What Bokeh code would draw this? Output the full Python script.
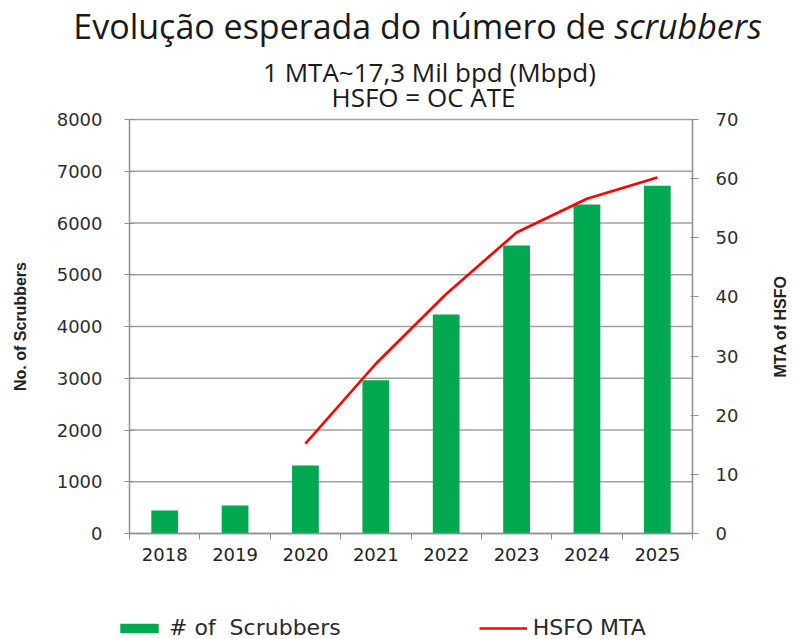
import math
from bokeh.plotting import figure
from bokeh.models import (Range1d, LinearAxis, FixedTicker, Legend, LegendItem, Label,
                          ColumnDataSource)
from bokeh.embed import file_html
from bokeh.resources import INLINE

# ---- data ----
years = ["2018", "2019", "2020", "2021", "2022", "2023", "2024", "2025"]
scrubbers = [444, 541, 1314, 2960, 4232, 5565, 6357, 6720]
mta_years = ["2020", "2021", "2022", "2023", "2024", "2025"]
hsfo_mta = [15.2, 28.7, 40.5, 50.9, 56.6, 60.2]
left_ticks = [0, 1000, 2000, 3000, 4000, 5000, 6000, 7000, 8000]
right_ticks = [0, 10, 20, 30, 40, 50, 60, 70]

title_main = "Evolução esperada do número de"
title_italic = "scrubbers"
subtitle1 = "1 MTA~17,3 Mil bpd (Mbpd)"
subtitle2 = "HSFO = OC ATE"
left_title = "No. of Scrubbers"
right_title = "MTA of HSFO"

n = len(years)
xpos = {y: i + 0.5 for i, y in enumerate(years)}
bar_src = ColumnDataSource(dict(x=[xpos[y] for y in years], top=scrubbers, year=years))
line_src = ColumnDataSource(dict(x=[xpos[y] for y in mta_years], y=hsfo_mta))
grid_src = ColumnDataSource(dict(x0=[0] * len(left_ticks), x1=[n] * len(left_ticks),
                                 y=left_ticks))

GREEN = "#00A84F"
RED = "#FF0000"
GRID = "#a0a0a0"
AXIS = "#8f8f8f"
TXT = "#222222"

# ---- layout (pixels) ----
W, H = 789, 639
PX_L, PX_R, PX_T, PX_B = 129, 692, 119, 533
LEFT_MAX, RIGHT_MAX = left_ticks[-1], right_ticks[-1]
cat_px = (PX_R - PX_L) / n
unit_px = (PX_B - PX_T) / LEFT_MAX
x_start, x_end = -PX_L / cat_px, n + (W - PX_R) / cat_px
y_start, y_end = -(H - PX_B) / unit_px, LEFT_MAX + PX_T / unit_px
k = RIGHT_MAX / LEFT_MAX

p = figure(width=W, height=H, output_backend="svg", toolbar_location=None,
           x_range=Range1d(x_start, x_end), y_range=Range1d(y_start, y_end),
           min_border=0, outline_line_color=None)
p.extra_y_ranges = {"mta": Range1d(y_start * k, y_end * k)}
p.xgrid.visible = False
p.ygrid.visible = False

# horizontal gridlines, limited to the plot area
p.segment(x0="x0", x1="x1", y0="y", y1="y", source=grid_src, line_color=GRID, line_width=1.6)

bars = p.vbar(x="x", top="top", width=0.38, source=bar_src, fill_color=GREEN, line_color=None)
line = p.line(x="x", y="y", source=line_src, y_range_name="mta", line_color=RED, line_width=2.6)

xa = p.xaxis[0]
xa.fixed_location = 0
xa.bounds = (0, n)
xa.ticker = FixedTicker(ticks=[xpos[y] for y in years], minor_ticks=list(range(n + 1)))
xa.major_label_overrides = {xpos[y]: y for y in years}
xa.major_tick_in = 0
xa.major_tick_out = 0
xa.minor_tick_in = 0
xa.minor_tick_out = 6
xa.minor_tick_line_color = AXIS
xa.axis_line_color = AXIS
xa.axis_line_width = 1.5
xa.major_label_text_font = "DejaVu Sans"
xa.major_label_text_font_size = "18px"
xa.major_label_text_color = TXT
xa.major_label_standoff = 8

ya = p.yaxis[0]
ya.fixed_location = 0
ya.bounds = (0, LEFT_MAX)
ya.ticker = FixedTicker(ticks=left_ticks, minor_ticks=[])
ya.major_tick_in = 5
ya.major_tick_out = 5
ya.major_tick_line_color = AXIS
ya.axis_line_color = AXIS
ya.axis_line_width = 1.5
ya.major_label_text_font = "DejaVu Sans"
ya.major_label_text_font_size = "18px"
ya.major_label_text_color = "#2e2e2e"
ya.major_label_standoff = 22

ra = LinearAxis(y_range_name="mta", ticker=FixedTicker(ticks=right_ticks, minor_ticks=[]))
ra.fixed_location = n
ra.bounds = (0, RIGHT_MAX)
ra.major_tick_in = 2
ra.major_tick_out = 6
ra.major_tick_line_color = AXIS
ra.axis_line_color = AXIS
ra.axis_line_width = 1.5
ra.major_label_text_font = "DejaVu Sans"
ra.major_label_text_font_size = "18px"
ra.major_label_text_color = "#2e2e2e"
ra.major_label_standoff = 17
p.add_layout(ra, "right")

def sy(page_y):
    return H - page_y

def lab(text, x, y, size, align="center", style="normal", font="Open Sans",
        angle=0.0, color="#1a1a1a"):
    p.add_layout(Label(x=x, y=sy(y), x_units="screen", y_units="screen", text=text,
                       text_align=align, text_baseline="middle", text_font=font,
                       text_font_style=style, text_font_size=size, angle=angle,
                       text_color=color))

lab(title_main, 605, 25, "34px", align="right")
lab(title_italic, 614, 25, "34px", align="left", style="italic")
lab(subtitle1, 429, 71, "26px")
lab(subtitle2, 423, 96, "26px")
lab(left_title, 20, 326, "16px", font="Liberation Sans", style="bold",
    angle=math.pi / 2, color="#222222")
lab(right_title, 780, 326, "16px", font="Liberation Sans", style="bold",
    angle=math.pi / 2, color="#222222")

legend = Legend(items=[LegendItem(label="# of  Scrubbers", renderers=[bars]),
                       LegendItem(label="HSFO MTA", renderers=[line])],
                orientation="horizontal", location=(115, -1),
                glyph_width=48, glyph_height=12, label_standoff=6, spacing=138,
                padding=0, margin=0, border_line_color=None, background_fill_alpha=0,
                label_text_font="DejaVu Sans", label_text_font_size="22px",
                label_text_color="#2a2a2a", label_height=22)
p.add_layout(legend, "center")

open("out.html", "w").write(file_html(p, INLINE))
